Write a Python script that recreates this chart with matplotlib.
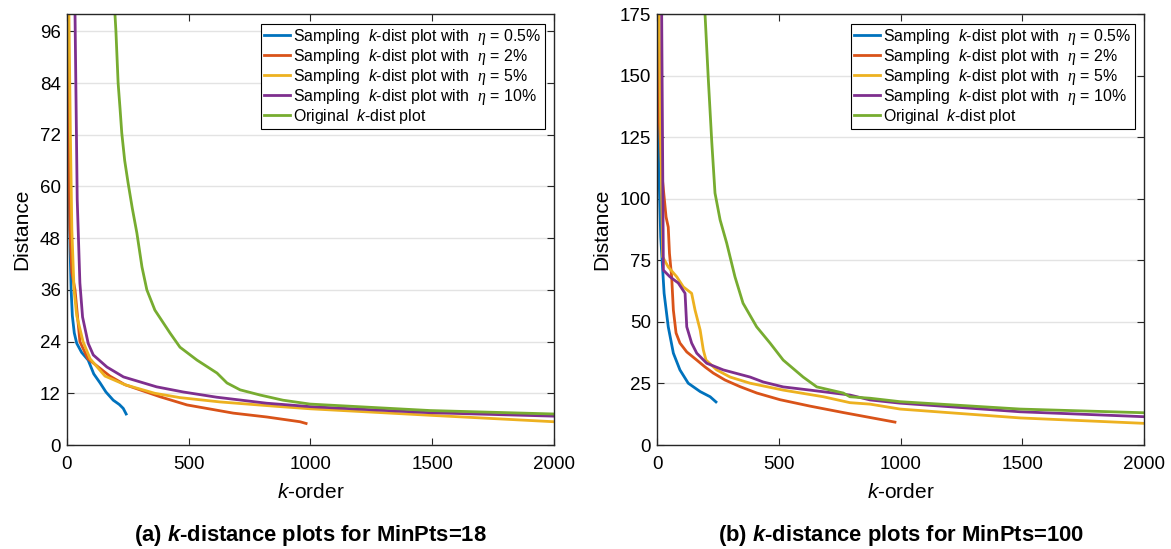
import matplotlib

matplotlib.use("Agg")
import matplotlib.pyplot as plt

plt.rcParams["font.family"] = ["Liberation Sans", "DejaVu Sans"]
plt.rcParams["mathtext.fontset"] = "custom"
plt.rcParams["mathtext.rm"] = "Liberation Sans"
plt.rcParams["mathtext.it"] = "Liberation Sans:italic"
plt.rcParams["mathtext.bf"] = "Liberation Sans:bold"
plt.rcParams["mathtext.bfit"] = "Liberation Sans:italic:bold"
# serif italic for the greek eta, as in the original tex rendering
plt.rcParams["mathtext.sf"] = "Liberation Serif:italic"

# Series labels and MATLAB default colours
labels = [
    r"Sampling  $k$-dist plot with  $\mathsf{\eta}$ = 0.5%",
    r"Sampling  $k$-dist plot with  $\mathsf{\eta}$ = 2%",
    r"Sampling  $k$-dist plot with  $\mathsf{\eta}$ = 5%",
    r"Sampling  $k$-dist plot with  $\mathsf{\eta}$ = 10%",
    r"Original  $k$-dist plot",
]
colors = ["#0072BD", "#D95319", "#EDB120", "#7E2F8E", "#77AC30"]

# (a) MinPts=18, values
a_blue_x = [0, 3, 6, 10, 13, 17, 22, 30, 40, 60, 87, 110, 136, 160, 190, 215, 231, 243]
a_blue_y = [130, 96, 72, 55, 45, 36, 30, 26, 23.6, 21.5, 19.7, 16.5, 14.4, 12.3, 10.4, 9.4, 8.5, 7.2]
a_orange_x = [0, 5, 7, 12, 20, 33, 53, 86, 176, 238, 382, 493, 683, 821, 957, 982]
a_orange_y = [130, 96, 72, 50, 40, 36, 24, 20, 16, 14, 11.2, 9.3, 7.4, 6.5, 5.4, 5.0]
a_yellow_x = [0, 8, 14, 20, 29, 40, 66, 95, 156, 238, 361, 464, 628, 854, 1000, 1491, 2000]
a_yellow_y = [140, 100, 72, 50, 36, 30, 24, 20, 16, 14, 12, 11, 10, 9, 8.4, 6.9, 5.4]
a_purple_x = [0, 33, 42, 53, 64, 87, 108, 164, 232, 368, 478, 614, 820, 1000, 1491, 2000]
a_purple_y = [160, 100, 57, 37.6, 29.7, 23.6, 20.9, 18.1, 15.8, 13.5, 12.3, 11.1, 9.7, 8.9, 7.5, 6.7]
a_green_x = [190, 197, 201, 210, 218, 225, 237, 251, 268, 287, 308, 328, 361, 423, 464, 534,
             616, 657, 711, 793, 887, 998, 1491, 2000]
a_green_y = [110, 100, 96, 84, 78, 72.4, 66, 60.8, 55, 49.2, 41.3, 36, 31.3, 26, 22.7, 19.7,
             16.7, 14.4, 12.8, 11.6, 10.4, 9.5, 8.0, 7.2]

# (b) MinPts=100
b_blue_x = [0, 3, 8, 15, 29, 46, 67, 94, 128, 177, 218, 242]
b_blue_y = [200, 140, 110, 84.5, 61.6, 48, 37.3, 30.5, 25.1, 21.7, 19.6, 17.5]
b_orange_x = [0, 5, 20, 37, 46, 51, 60, 67, 78, 94, 122, 163, 197, 231, 279, 341, 410, 505,
              628, 764, 977]
b_orange_y = [200, 140, 110, 92.6, 88.5, 77.8, 68.3, 54.8, 45.5, 41.4, 37.8, 34.5, 31.7, 29.2,
              26.4, 23.7, 21.1, 18.4, 15.8, 13.2, 9.3]
b_yellow_x = [0, 8, 23, 46, 81, 108, 142, 156, 177, 190, 201, 245, 300, 382, 518, 683, 792,
              875, 998, 1491, 2000]
b_yellow_y = [200, 175, 76.4, 72.3, 68.3, 64.2, 61.6, 54.8, 46.7, 38.6, 34.5, 30.5, 27.6, 25.1,
              22.3, 19.6, 17.2, 16.6, 14.6, 11.0, 8.8]
b_purple_x = [0, 19, 26, 53, 87, 115, 122, 142, 163, 204, 272, 382, 436, 518, 628, 792, 875,
              998, 1491, 2000]
b_purple_y = [200, 175, 71, 68.3, 65.8, 61.6, 48, 41.4, 37.3, 33.2, 30.5, 27.6, 25.6, 23.6,
              22.3, 20.3, 18.3, 17.0, 13.5, 11.5]
b_green_x = [190, 197, 210, 225, 238, 259, 286, 320, 353, 409, 464, 518, 600, 656, 765, 792,
             875, 998, 1491, 2000]
b_green_y = [200, 175, 149.5, 122.6, 102.3, 91.4, 82, 68.3, 57.6, 48, 41.4, 34.5, 27.6, 23.6,
             21.1, 19.6, 19.0, 17.6, 14.6, 13.1]

panel_a = [(a_blue_x, a_blue_y), (a_orange_x, a_orange_y), (a_yellow_x, a_yellow_y),
           (a_purple_x, a_purple_y), (a_green_x, a_green_y)]
panel_b = [(b_blue_x, b_blue_y), (b_orange_x, b_orange_y), (b_yellow_x, b_yellow_y),
           (b_purple_x, b_purple_y), (b_green_x, b_green_y)]

a_yticks = [0, 12, 24, 36, 48, 60, 72, 84, 96]
b_yticks = [0, 25, 50, 75, 100, 125, 150, 175]
xticks = [0, 500, 1000, 1500, 2000]

fig = plt.figure(figsize=(11.71, 5.49), dpi=100)
ax_a = fig.add_axes([0.0572, 0.1894, 0.4159, 0.785])
ax_b = fig.add_axes([0.5611, 0.1894, 0.4159, 0.785])

panels = [
    (ax_a, panel_a, 100, a_yticks, r"(a) $\mathbfit{k}$-distance plots for MinPts=18"),
    (ax_b, panel_b, 175, b_yticks, r"(b) $\mathbfit{k}$-distance plots for MinPts=100"),
]

for ax, series, ymax, yticks, title in panels:
    for (xs, ys), color, label in zip(series, colors, labels):
        ax.plot(xs, ys, color=color, lw=2, label=label)

    ax.set_xlim(0, 2000)
    ax.set_ylim(0, ymax)
    ax.set_xticks(xticks)
    ax.set_yticks(yticks)
    ax.yaxis.grid(True, color="#e3e3e3", lw=1)
    ax.set_axisbelow(True)
    ax.tick_params(direction="in", top=True, right=True, length=5, labelsize=13.5,
                   colors="#262626", labelcolor="black")
    ax.tick_params(axis="x", pad=8)
    ax.tick_params(axis="y", pad=4.5)
    for spine in ax.spines.values():
        spine.set_color("#262626")
        spine.set_linewidth(1)

    ax.set_xlabel(r"$k$-order", fontsize=15, labelpad=7)
    ax.set_ylabel("Distance", fontsize=15, labelpad=6)

    leg = ax.legend(loc="upper right", fontsize=11.4, frameon=True, fancybox=False,
                    framealpha=1, edgecolor="black", borderaxespad=0.6, borderpad=0.2,
                    handlelength=1.65, handletextpad=0.2, labelspacing=0.0)
    leg.get_frame().set_linewidth(0.8)

    box = ax.get_position()
    fig.text(box.x0 + box.width / 2, 0.0255, title, ha="center", va="center",
             fontsize=15.8, fontweight="bold")

fig.savefig("out.png", dpi=100)
